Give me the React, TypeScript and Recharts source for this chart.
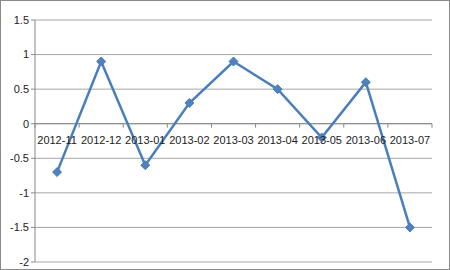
import React from 'react';
import { LineChart, Line, XAxis, YAxis, CartesianGrid, ReferenceLine } from 'recharts';

const months = ['2012-11', '2012-12', '2013-01', '2013-02', '2013-03', '2013-04', '2013-05', '2013-06', '2013-07'];
const values = [-0.7, 0.9, -0.6, 0.3, 0.9, 0.5, -0.2, 0.6, -1.5];
const yTicks = [-2, -1.5, -1, -0.5, 0, 0.5, 1, 1.5];

const data = months.map((m, i) => ({ month: m, value: values[i] }));

// chart layout
const W = 448;
const H = 268;
const xAxisHeight = 1;
const margin = { top: 19, right: 17, bottom: 6, left: 0 };
const yAxisWidth = 34;
const yMin = -2;
const yMax = 1.5;
const plotH = H - margin.top - margin.bottom - xAxisHeight;
const plotW = W - margin.left - margin.right - yAxisWidth;
const zeroY = margin.top + ((yMax - 0) / (yMax - yMin)) * plotH;
const band = plotW / months.length;

const font = '"Liberation Sans", Arial, sans-serif';

const renderCategoryTick = (props: any) => {
  const { x, payload, index } = props;
  return (
    <g key={`tick-${index}`}>
      <line x1={x - band / 2} x2={x - band / 2} y1={zeroY} y2={zeroY + 4} stroke="#888" />
      {index === months.length - 1 && (
        <line x1={x + band / 2} x2={x + band / 2} y1={zeroY} y2={zeroY + 4} stroke="#888" />
      )}
      <text x={x} y={zeroY + 20} textAnchor="middle" fontSize={11} fontFamily={font} fill="#222">
        {payload.value}
      </text>
    </g>
  );
};

const Diamond = (props: any) => {
  const { cx, cy } = props;
  if (cx == null || cy == null) return null;
  const r = 4.5;
  return (
    <path
      d={`M${cx},${cy - r} L${cx + r},${cy} L${cx},${cy + r} L${cx - r},${cy} Z`}
      fill="#4f81bd"
      stroke="#4a7ebb"
      strokeWidth={1}
    />
  );
};

export default function App() {
  return (
    <div
      style={{
        position: 'absolute',
        left: 0,
        top: 0,
        width: 450,
        height: 270,
        border: '1px solid #8a8a8a',
        boxSizing: 'border-box',
        background: '#fff',
      }}
    >
      <LineChart width={W} height={H} data={data} margin={margin}>
        <CartesianGrid horizontal vertical={false} stroke="#a6a6a6" />
        <XAxis
          dataKey="month"
          scale="band"
          height={xAxisHeight}
          axisLine={false}
          tickLine={false}
          tick={renderCategoryTick}
          interval={0}
        />
        <YAxis
          width={yAxisWidth}
          domain={[yMin, yMax]}
          ticks={yTicks}
          interval={0}
          axisLine={{ stroke: '#888' }}
          tickLine={{ stroke: '#888' }}
          tickSize={4}
          tick={{ fontSize: 11, fontFamily: font, fill: '#222' }}
        />
        <ReferenceLine y={0} stroke="#888" />
        <Line
          type="linear"
          dataKey="value"
          stroke="#4a7ebb"
          strokeWidth={2.5}
          dot={<Diamond />}
          activeDot={false}
          isAnimationActive={false}
        />
      </LineChart>
    </div>
  );
}
